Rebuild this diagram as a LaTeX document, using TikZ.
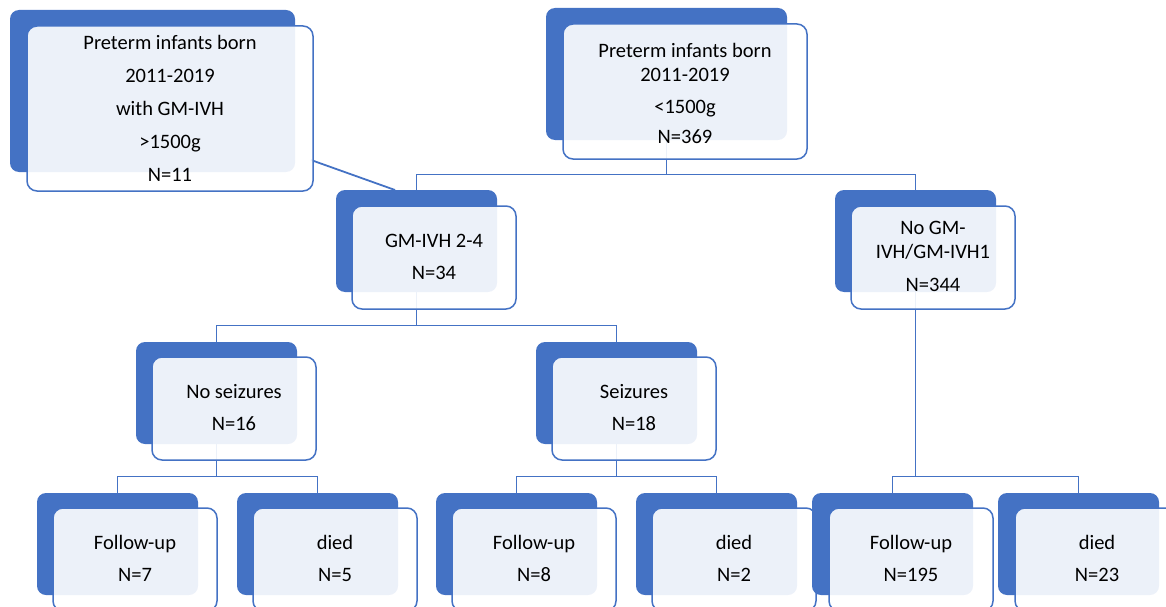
\documentclass[tikz,border=0pt]{standalone}
\usepackage{fontspec}
\setmainfont{Carlito}
\definecolor{myblue}{HTML}{4472C4}
\tikzset{
  back/.style={fill=myblue, draw=none, rounded corners=9pt, anchor=north west, inner sep=0pt, outer sep=0pt},
  front/.style={fill=white, fill opacity=0.9, draw=myblue, draw opacity=1, line width=1.5pt, rounded corners=10pt, anchor=north west, inner sep=0pt, outer sep=0pt},
  sback/.style={back, minimum width=161pt, minimum height=102pt},
  sfront/.style={front, minimum width=164pt, minimum height=103pt},
  txt/.style={font=\fontsize{20.5}{24}\selectfont, align=center, text=black, inner sep=0pt},
  conn/.style={draw=myblue, line width=1.8pt},
}
\begin{document}
\begin{tikzpicture}[x=1pt,y=-1pt]
\useasboundingbox (0,0) rectangle (1166,607);
\clip (0,0) rectangle (1166,607);
% ---------- connector anchor points ----------
\coordinate (b2c) at (666.5,74);
\coordinate (d1) at (311,160);
\coordinate (d2) at (395,190);
\coordinate (b3n) at (416.5,190);
\coordinate (b4n) at (915.5,190);
\coordinate (b3c) at (416.5,241);
\coordinate (b4c) at (915.5,241);
\coordinate (b5n) at (216.5,342);
\coordinate (b6n) at (616.5,342);
\coordinate (b5c) at (216.5,393);
\coordinate (b6c) at (616.5,393);
\coordinate (c1n) at (117.5,493);
\coordinate (c2n) at (317.5,493);
\coordinate (c3n) at (516.5,493);
\coordinate (c4n) at (716.5,493);
\coordinate (c5n) at (892.5,493);
\coordinate (c6n) at (1078.5,493);
% ---------- connectors ----------
\draw[conn] (b2c) -- (b2c |- 0,174.5) -| (b3n);
\draw[conn] (b2c |- 0,174.5) -| (b4n);
\draw[conn] (d1) -- (d2);
\draw[conn] (b3c) -- (b3c |- 0,325.5) -| (b5n);
\draw[conn] (b3c |- 0,325.5) -| (b6n);
\draw[conn] (b5c) -- (b5c |- 0,476.5) -| (c1n);
\draw[conn] (b5c |- 0,476.5) -| (c2n);
\draw[conn] (b6c) -- (b6c |- 0,476.5) -| (c3n);
\draw[conn] (b6c |- 0,476.5) -| (c4n);
\draw[conn] (b4c) -- (b4c |- 0,476.5) -| (c5n);
\draw[conn] (b4c |- 0,476.5) -| (c6n);
% ---------- box 1 ----------
\node[back, minimum width=285pt, minimum height=162pt] (b1) at (10,10) {};
\node[front, minimum width=286pt, minimum height=165pt] (f1) at (27,26) {};
\node[txt, font=\fontsize{20.5}{33}\selectfont] (t1) at (f1.center) {Preterm infants born\\2011-2019\\with GM-IVH\\>1500g\\N=11};
% ---------- box 2 ----------
\node[back, minimum width=241pt, minimum height=132pt] (b2) at (546,8) {};
\node[front, minimum width=244pt, minimum height=135pt] (f2) at (563,24) {};
\node[txt] (t2) at ([yshift=-2pt]f2.center) {Preterm infants born\\2011-2019\\[8pt]<1500g\\[6pt]N=369};
% ---------- box 3 ----------
\node[sback] (b3) at (336,190) {};
\node[sfront] (f3) at (352,206) {};
\node[txt] (t3) at ([yshift=1pt]f3.center) {GM-IVH 2-4\\[8pt]N=34};
% ---------- box 4 ----------
\node[sback] (b4) at (835,190) {};
\node[sfront] (f4) at (851,206) {};
\node[txt] (t4) at ([yshift=1pt]f4.center) {No GM-\\IVH/GM-IVH1\\[9pt]N=344};
% ---------- box 5 ----------
\node[sback] (b5) at (136,342) {};
\node[sfront] (f5) at (152,357) {};
\node[txt] (t5) at ([yshift=1pt]f5.center) {No seizures\\[8pt]N=16};
% ---------- box 6 ----------
\node[sback] (b6) at (536,342) {};
\node[sfront] (f6) at (552,357) {};
\node[txt] (t6) at ([yshift=1pt]f6.center) {Seizures\\[8pt]N=18};
% ---------- bottom row ----------
\node[sback] (c1) at (37,493) {};
\node[sfront] (g1) at (53,508) {};
\node[txt] (u1) at ([yshift=1pt]g1.center) {Follow-up\\[8pt]N=7};
\node[sback] (c2) at (237,493) {};
\node[sfront] (g2) at (253,508) {};
\node[txt] (u2) at ([yshift=1pt]g2.center) {died\\[8pt]N=5};
\node[sback] (c3) at (436,493) {};
\node[sfront] (g3) at (452,508) {};
\node[txt] (u3) at ([yshift=1pt]g3.center) {Follow-up\\[8pt]N=8};
\node[sback] (c4) at (636,493) {};
\node[sfront] (g4) at (652,508) {};
\node[txt] (u4) at ([yshift=1pt]g4.center) {died\\[8pt]N=2};
\node[sback] (c5) at (812,493) {};
\node[sfront] (g5) at (829,508) {};
\node[txt] (u5) at ([yshift=1pt]g5.center) {Follow-up\\[8pt]N=195};
\node[sback] (c6) at (998,493) {};
\node[sfront] (g6) at (1015,508) {};
\node[txt] (u6) at ([yshift=1pt]g6.center) {died\\[8pt]N=23};
\end{tikzpicture}
\end{document}
